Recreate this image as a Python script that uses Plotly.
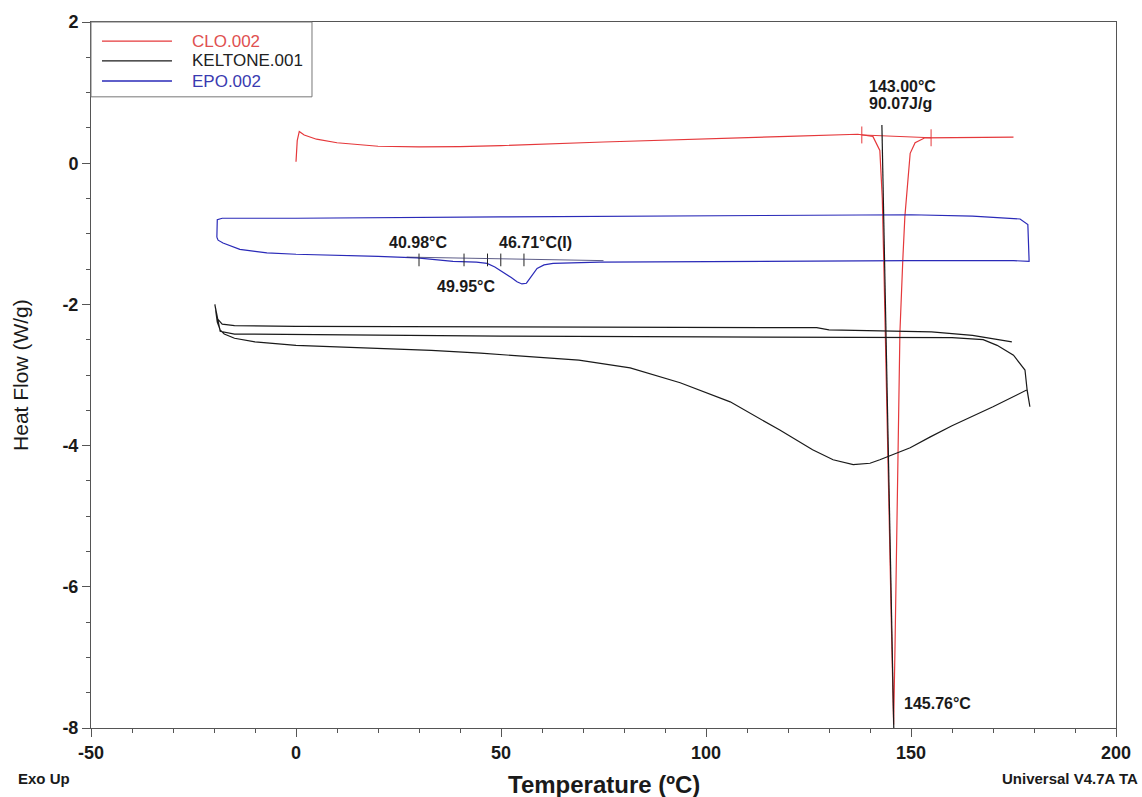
import plotly.graph_objects as go

# ---------------- data ----------------
CLO_T = [0.0, 0.3, 0.8, 2, 5, 10, 20, 30, 40, 50, 75, 100, 120, 137, 140.7, 142.4,
         143.0, 143.4, 144.0, 144.6, 145.2, 145.76, 146.1, 146.6, 147.3, 148.0, 148.5,
         149.8, 151.0, 153.4, 160, 175]
CLO_HF = [0.02, 0.32, 0.45, 0.40, 0.34, 0.29, 0.24, 0.23, 0.235, 0.25, 0.30, 0.35, 0.38,
          0.41, 0.38, 0.18, -0.5, -1.5, -3.0, -4.8, -6.5, -7.95, -6.85, -4.77, -2.39,
          -1.37, -0.76, 0.14, 0.29, 0.36, 0.36, 0.37]

KEL_T = [-19.6, -19.2, -18.5, -17.5, -15, -10, 0, 10, 20, 33, 45, 57, 69, 81.5, 93.7,
         105.9, 118, 126, 131, 135.9, 140, 142.4, 149.8, 154.6, 160, 170, 178.3, 179.0,
         178.3, 177.8, 175, 171, 167.6, 160, 150, 100, 50, 0, -15, -18.5,
         -19.8, -19.2, -18, -15, 0, 50, 100, 127, 130, 155, 165, 174.6]
KEL_HF = [-2.08, -2.25, -2.36, -2.42, -2.48, -2.53, -2.58, -2.60, -2.62, -2.65, -2.69,
          -2.74, -2.79, -2.90, -3.11, -3.38, -3.78, -4.06, -4.20, -4.27, -4.25, -4.20,
          -4.03, -3.88, -3.72, -3.45, -3.21, -3.45,
          -3.20, -2.93, -2.72, -2.58, -2.50, -2.47, -2.47, -2.46, -2.45, -2.43, -2.42,
          -2.38, -2.00, -2.20, -2.28, -2.30, -2.31, -2.32, -2.32, -2.33, -2.36, -2.39,
          -2.44, -2.53]

EPO_T = [-19.3, -19.0, -17.8, -15.5, -13.7, -10, -7.1, 0, 9, 20, 29.5, 38.3, 44, 46.6,
         48.5, 50.5, 52.5, 53.9, 55.1, 56.2, 57, 58.8, 60.5, 62.7, 74, 100, 150, 175,
         178.8, 178.8, 178.5, 176.6, 165, 150, 100, 50, 0, -18, -19.2, -19.3]
EPO_HF = [-1.05, -1.09, -1.13, -1.18, -1.22, -1.25, -1.27, -1.29, -1.30, -1.32, -1.34,
          -1.39, -1.40, -1.42, -1.47, -1.54, -1.62, -1.68, -1.71, -1.70, -1.63, -1.49,
          -1.44, -1.42, -1.40, -1.39, -1.38, -1.38, -1.39, -1.37, -0.87, -0.79, -0.75,
          -0.73, -0.74, -0.76, -0.78, -0.78, -0.80, -1.05]

# analysis marks
CLO_LIMIT_T = [138.0, 154.9]
CLO_LIMIT_HF = [0.40, 0.36]
CLO_ONSET_T = [142.9, 145.8]
CLO_ONSET_HF = [0.54, -8.0]
EPO_TICK_T = [30.0, 40.98, 46.71, 49.95, 55.6]
EPO_TICK_HF = [-1.37, -1.37, -1.37, -1.37, -1.37]
EPO_TANGENT_T = [27.0, 75.0]
EPO_TANGENT_HF = [-1.33, -1.38]

LABEL_TEXT = ["143.00°C", "90.07J/g", "145.76°C", "40.98°C", "46.71°C(I)", "49.95°C"]
LABEL_T = [139.3, 139.3, 147.8, 29.8, 49.0, 41.5]
LABEL_HF = [1.08, 0.85, -7.65, -1.12, -1.13, -1.75]
LABEL_ANCHOR = ["left", "left", "left", "center", "left", "center"]

SERIES = ["CLO.002", "KELTONE.001", "EPO.002"]
SERIES_COLORS = ["#e5383b", "#1a1a1a", "#2a2ab8"]
TEXT_COLORS = ["#e05050", "#222222", "#3a3ab0"]

X_TICKS = [-50, 0, 50, 100, 150, 200]
Y_TICKS = [-8, -6, -4, -2, 0, 2]

FONT = "Liberation Sans, Arial, sans-serif"

fig = go.Figure()

for name, xs, ys, col in zip(SERIES, [CLO_T, KEL_T, EPO_T], [CLO_HF, KEL_HF, EPO_HF], SERIES_COLORS):
    fig.add_trace(go.Scatter(x=xs, y=ys, mode="lines", name=name,
                             line=dict(color=col, width=1.2), showlegend=False))

# CLO integration baseline and limit ticks
fig.add_trace(go.Scatter(x=CLO_LIMIT_T, y=CLO_LIMIT_HF, mode="lines",
                         line=dict(color=SERIES_COLORS[0], width=1), showlegend=False))
tx, ty = [], []
for t, h in zip(CLO_LIMIT_T, CLO_LIMIT_HF):
    tx += [t, t, None]
    ty += [h + 0.12, h - 0.12, None]
fig.add_trace(go.Scatter(x=tx, y=ty, mode="lines",
                         line=dict(color=SERIES_COLORS[0], width=1), showlegend=False))
# onset tangent line
fig.add_trace(go.Scatter(x=CLO_ONSET_T, y=CLO_ONSET_HF, mode="lines",
                         line=dict(color="#1a1a1a", width=1.2), showlegend=False))

# EPO glass transition ticks and tangent
tx, ty = [], []
for t, h in zip(EPO_TICK_T, EPO_TICK_HF):
    tx += [t, t, None]
    ty += [h + 0.09, h - 0.09, None]
fig.add_trace(go.Scatter(x=tx, y=ty, mode="lines",
                         line=dict(color="#222222", width=1), showlegend=False))
fig.add_trace(go.Scatter(x=EPO_TANGENT_T, y=EPO_TANGENT_HF, mode="lines",
                         line=dict(color="#33336a", width=0.8), showlegend=False))

ann = []
for txt, x, y, a in zip(LABEL_TEXT, LABEL_T, LABEL_HF, LABEL_ANCHOR):
    ann.append(dict(x=x, y=y, xref="x", yref="y", text=txt, showarrow=False,
                    xanchor=a, yanchor="middle",
                    font=dict(family=FONT, size=16, color="#1a1a1a", weight="bold")))

# manual legend (paper coords)
shapes = [dict(type="rect", xref="paper", yref="paper", x0=0, x1=0.2156, y0=0.894, y1=1,
               line=dict(color="#777777", width=1), fillcolor="white", layer="above")]
row_y = [0.973, 0.9448, 0.9164]
for name, col, tcol, yy in zip(SERIES, SERIES_COLORS, TEXT_COLORS, row_y):
    shapes.append(dict(type="line", xref="paper", yref="paper", x0=0.0107, x1=0.079,
                       y0=yy, y1=yy, line=dict(color=col, width=1.3)))
    ann.append(dict(x=0.0966, y=yy, xref="paper", yref="paper", text=name,
                    showarrow=False, xanchor="left", yanchor="middle",
                    font=dict(family=FONT, size=17, color=tcol)))

ann.append(dict(x=-0.0693, y=0.5, xref="paper", yref="paper", text="Heat Flow (W/g)",
                showarrow=False, textangle=-90, xanchor="center", yanchor="middle",
                font=dict(family=FONT, size=21, color="#1a1a1a")))
ann.append(dict(x=0.5, y=-0.0807, xref="paper", yref="paper", text="Temperature (ºC)",
                showarrow=False, xanchor="center", yanchor="middle",
                font=dict(family=FONT, size=24, color="#1a1a1a", weight="bold")))
ann.append(dict(x=-0.0732, y=-0.0722, xref="paper", yref="paper", text="Exo Up",
                showarrow=False, xanchor="left", yanchor="middle",
                font=dict(family=FONT, size=15, color="#1a1a1a", weight="bold")))
ann.append(dict(x=1.0234, y=-0.0722, xref="paper", yref="paper", text="Universal V4.7A TA",
                showarrow=False, xanchor="right", yanchor="middle",
                font=dict(family=FONT, size=15, color="#1a1a1a", weight="bold")))

axis_common = dict(showgrid=False, zeroline=False, showline=True, linecolor="#555555",
                   linewidth=1, mirror=True, ticks="outside", ticklen=8, tickcolor="#555555",
                   tickfont=dict(family=FONT, size=18, color="#1a1a1a", weight="bold"))

fig.update_layout(
    width=1142, height=797,
    margin=dict(l=91, r=26, t=22, b=69),
    paper_bgcolor="white", plot_bgcolor="white",
    xaxis=dict(range=[-50, 200], tickvals=X_TICKS, ticktext=[str(v) for v in X_TICKS],
               minor=dict(dtick=10, ticks="outside", ticklen=4, tickcolor="#555555"),
               **axis_common),
    yaxis=dict(range=[-8, 2], tickvals=Y_TICKS, ticktext=[str(v) for v in Y_TICKS],
               minor=dict(dtick=0.5, ticks="outside", ticklen=4, tickcolor="#555555"),
               **axis_common),
    annotations=ann, shapes=shapes,
)

fig.write_html("out.html")
